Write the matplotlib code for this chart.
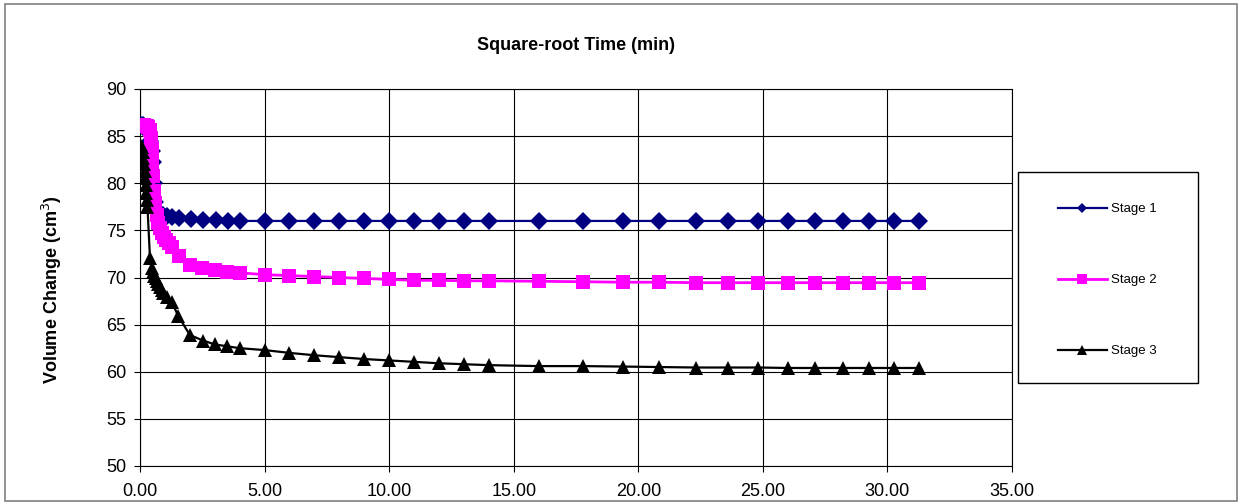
import matplotlib
matplotlib.use("Agg")
import matplotlib.pyplot as plt
from matplotlib.patches import Rectangle
from matplotlib.lines import Line2D

# Square-root time (min) and volume change (cm^3) for each loading stage
late_t = [5.0, 6.0, 7.0, 8.0, 9.0, 10.0, 11.0, 12.0, 13.0, 14.0,
          16.0, 17.8, 19.4, 20.85, 22.3, 23.6, 24.8, 26.0, 27.1, 28.2,
          29.25, 30.25, 31.25]

stage1_t = [0.05, 0.12, 0.18, 0.24, 0.30, 0.36, 0.42, 0.47, 0.51, 0.55,
            0.59, 0.65, 0.73, 0.82, 0.94, 1.10, 1.27, 1.58, 2.05, 2.51,
            3.04, 3.55, 4.00] + late_t
stage1_v = [86.2, 86.2, 86.1, 86.0, 85.8, 85.3, 84.5, 83.4, 82.3, 80.0,
            78.0, 77.3, 76.9, 76.7, 76.6, 76.5, 76.4, 76.3, 76.2, 76.1,
            76.05, 76.0, 76.0,
            76.0, 76.0, 76.0, 76.0, 76.0, 76.0, 76.0, 76.0, 76.0, 76.0,
            76.0, 76.0, 76.0, 76.0, 76.0, 76.0, 76.0, 76.0, 76.0,
            76.0, 76.0, 76.0, 76.0]

stage2_t = [0.05, 0.12, 0.18, 0.24, 0.29, 0.34, 0.39, 0.43, 0.47, 0.50,
            0.53, 0.57, 0.62, 0.67, 0.73, 0.80, 0.87, 0.95, 1.05, 1.15,
            1.30, 1.58, 2.00, 2.50, 3.00, 3.50, 4.00] + late_t
stage2_v = [86.2, 86.2, 86.2, 86.1, 86.1, 86.0, 85.6, 84.8, 83.6, 82.3,
            80.8, 79.2, 77.9, 76.6, 75.8, 75.2, 74.7, 74.3, 74.0, 73.7,
            73.2, 72.3, 71.3, 71.0, 70.8, 70.6, 70.5,
            70.3, 70.2, 70.1, 70.0, 69.9, 69.8, 69.7, 69.7, 69.65, 69.65,
            69.6, 69.55, 69.5, 69.5, 69.45, 69.45, 69.45, 69.45, 69.45,
            69.45, 69.45, 69.45, 69.45]

stage3_t = [0.05, 0.08, 0.11, 0.14, 0.17, 0.20, 0.22, 0.24, 0.26, 0.28,
            0.30, 0.40, 0.47, 0.53, 0.58, 0.63, 0.68, 0.74, 0.80, 0.87,
            0.94, 1.07, 1.27, 1.54, 2.00, 2.54, 3.00, 3.50, 4.00] + late_t
stage3_v = [84.0, 83.8, 83.3, 82.7, 82.0, 81.3, 80.6, 79.8, 79.0, 78.2,
            77.5, 72.1, 71.0, 70.6, 70.2, 69.9, 69.6, 69.3, 69.0, 68.7,
            68.4, 67.9, 67.4, 65.9, 63.9, 63.3, 62.9, 62.7, 62.5,
            62.3, 62.0, 61.75, 61.55, 61.35, 61.2, 61.05, 60.9, 60.8, 60.7,
            60.6, 60.6, 60.55, 60.5, 60.45, 60.45, 60.45, 60.4, 60.4, 60.4,
            60.4, 60.4, 60.4]

series_labels = ["Stage 1", "Stage 2", "Stage 3"]
x_ticks = [0, 5, 10, 15, 20, 25, 30, 35]
y_ticks = [50, 55, 60, 65, 70, 75, 80, 85, 90]

plt.rcParams["font.family"] = ["Liberation Sans", "DejaVu Sans"]

W, H = 1239, 504
fig = plt.figure(figsize=(W / 100, H / 100), dpi=100)
ax = fig.add_axes([140 / W, 1 - 466 / H, (1012 - 140) / W, (466 - 89) / H])

# Later stages are drawn over earlier ones
ax.plot(stage1_t, stage1_v, color="#000080", lw=1.6, marker="D", ms=9,
        markeredgewidth=0, zorder=3)
ax.plot(stage2_t, stage2_v, color="#FF00FF", lw=2.0, marker="s", ms=10,
        markeredgewidth=0, zorder=4)
ax.plot(stage3_t, stage3_v, color="#000000", lw=1.6, marker="^", ms=10,
        markeredgewidth=0, zorder=5)

ax.set_xlim(0, 35)
ax.set_ylim(50, 90)
ax.set_xticks(x_ticks)
ax.set_xticklabels([f"{v:.2f}" for v in x_ticks])
ax.set_yticks(y_ticks)
ax.set_yticklabels([str(v) for v in y_ticks])
ax.grid(True, color="#000000", lw=0.8)
ax.set_axisbelow(True)
for s in ax.spines.values():
    s.set_color("#000000")
    s.set_linewidth(0.8)
ax.tick_params(axis="both", direction="out", length=4, width=0.8,
               labelsize=13, colors="#000000")
ax.tick_params(axis="y", pad=6)
ax.tick_params(axis="x", pad=8)

fig.text(576 / W, 1 - 45 / H, "Square-root Time (min)", ha="center",
         va="center", fontsize=13, fontweight="bold")
fig.text(52 / W, 1 - 290 / H, "Volume Change (cm$^3$)", ha="center",
         va="center", rotation=90, fontsize=13, fontweight="bold")

# Legend frame and entries
fig.patches.append(Rectangle((1018 / W, 1 - 383 / H), 180 / W, 211 / H,
                             transform=fig.transFigure, facecolor="white",
                             edgecolor="#000000", lw=1.0, zorder=1))
handles = [
    Line2D([], [], color="#000080", lw=1.6, marker="D", ms=5, markeredgewidth=0),
    Line2D([], [], color="#FF00FF", lw=2.0, marker="s", ms=6.5, markeredgewidth=0),
    Line2D([], [], color="#000000", lw=1.6, marker="^", ms=6.5, markeredgewidth=0),
]
fig.legend(handles, series_labels, loc="upper left",
           bbox_to_anchor=(1058 / W, 1 - 203 / H), frameon=False,
           fontsize=9.5, handlelength=3.7, handletextpad=0.3,
           labelspacing=4.45, borderpad=0, borderaxespad=0)

# Outer chart border
fig.patches.append(Rectangle((5 / W, 3 / H), 1232 / W, 497 / H,
                             transform=fig.transFigure, facecolor="none",
                             edgecolor="#808080", lw=1.2))

fig.savefig("out.png", dpi=100)
